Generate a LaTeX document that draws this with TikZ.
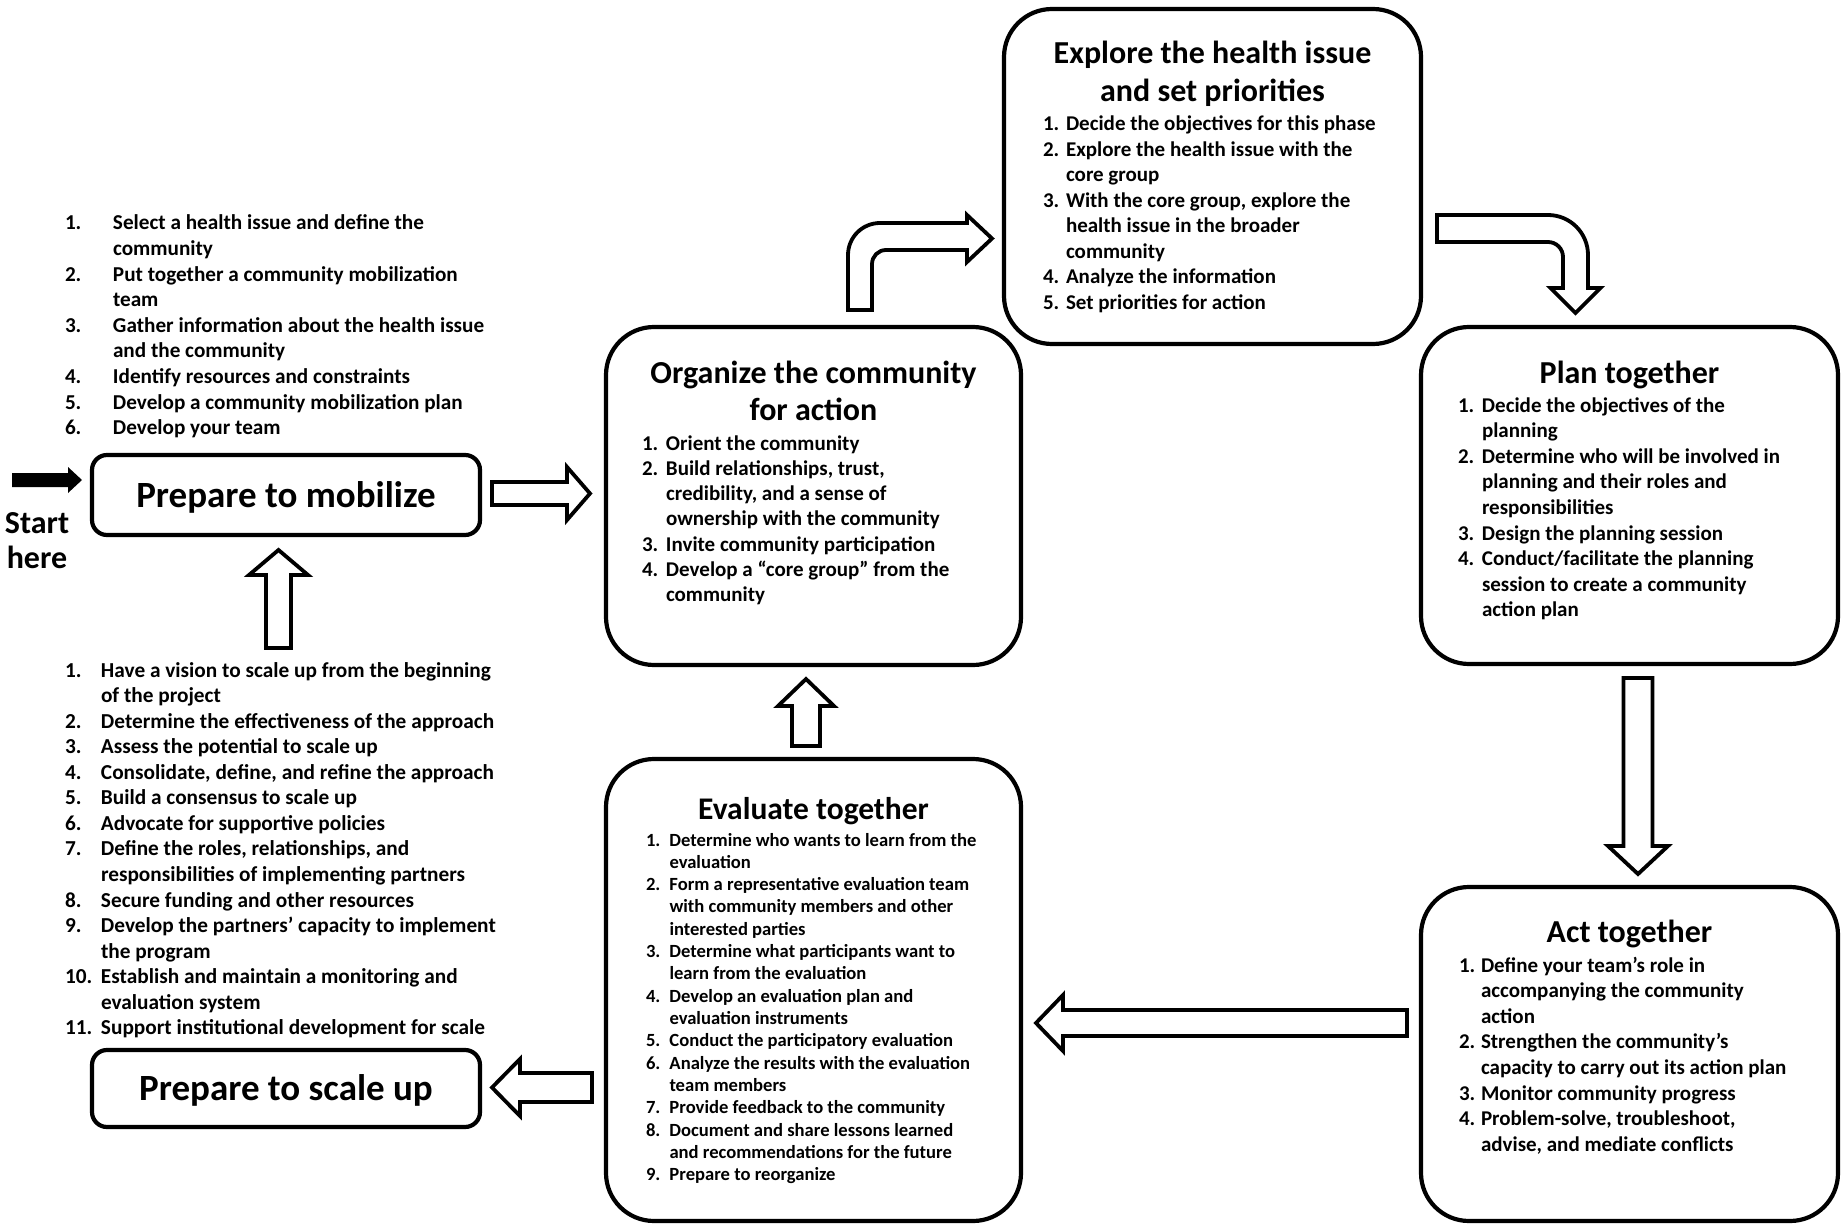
\documentclass[tikz,border=0pt]{standalone}
\usepackage{fontspec}
\setmainfont{Carlito}
\usepackage{graphicx}
\usetikzlibrary{calc}
\tikzset{
  bigbox/.style={draw, line width=4.2pt, rounded corners=48pt, inner sep=0pt},
  smallbox/.style={draw, line width=4.2pt, rounded corners=15pt, minimum width=388pt, inner sep=0pt,
     font=\fontsize{37}{40}\selectfont\bfseries},
  txt/.style={inner sep=0pt, outer sep=0pt},
  blockarrow/.style={draw, fill=white, line width=3.8pt, line join=miter},
}
\newcommand\hblock[6]{\draw[blockarrow] (#1,{#4-#5}) -- (#2,{#4-#5}) -- (#2,{#4-#6}) -- (#3,#4) -- (#2,{#4+#6}) -- (#2,{#4+#5}) -- (#1,{#4+#5}) -- cycle;}
\newcommand\vblock[6]{\draw[blockarrow] ({#4-#5},#1) -- ({#4-#5},#2) -- ({#4-#6},#2) -- (#4,#3) -- ({#4+#6},#2) -- ({#4+#5},#2) -- ({#4+#5},#1) -- cycle;}
\begin{document}
\begin{tikzpicture}[x=1pt,y=-1pt]
\useasboundingbox (0,0) rectangle (1845,1225);

% ---------- big boxes ----------
\node[bigbox, minimum width=415pt, minimum height=338pt] (org) at (813.5,496) {};
\node[bigbox, minimum width=417pt, minimum height=335pt] (exp) at (1212.5,176.5) {};
\node[bigbox, minimum width=417pt, minimum height=337pt] (plan) at (1629.5,495.5) {};
\node[bigbox, minimum width=417pt, minimum height=334pt] (act) at (1629.5,1054) {};
\node[bigbox, minimum width=415pt, minimum height=462pt] (eval) at (813.5,990) {};

% ---------- small boxes ----------
\node[smallbox, minimum height=80pt, text height=26pt, text depth=2pt] (mob) at (286,495) {Prepare to mobilize};
\node[smallbox, minimum height=77pt, text height=25pt, text depth=2pt] (scale) at (286,1088.5) {Prepare to scale up};

% ---------- start ----------
\node[txt, anchor=base] (start) at (37,533) {\fontsize{32}{35}\selectfont\bfseries
  \begin{tabular}[t]{@{}c@{}}Start\\here\end{tabular}};
\fill (12,473) -- (68,473) -- (68,467) -- (82,480) -- (68,493) -- (68,487) -- (12,487) -- cycle;

% ---------- top-left list ----------
\node[txt, anchor=base west] (mobl) at (65,230) {\fontsize{21.2}{25.6}\selectfont\bfseries
\begin{tabular}[t]{@{}p{48pt}@{}l@{}}
1. & Select a health issue and define the\\
   & community\\
2. & Put together a community mobilization\\
   & team\\
3. & Gather information about the health issue\\
   & and the community\\
4. & Identify resources and constraints\\
5. & Develop a community mobilization plan\\
6. & Develop your team
\end{tabular}};

% ---------- bottom-left list ----------
\node[txt, anchor=base west] (scalel) at (65,677) {\fontsize{21.3}{25.57}\selectfont\bfseries
\begin{tabular}[t]{@{}p{36pt}@{}l@{}}
1. & Have a vision to scale up from the beginning\\
   & of the project\\
2. & Determine the effectiveness of the approach\\
3. & Assess the potential to scale up\\
4. & Consolidate, define, and refine the approach\\
5. & Build a consensus to scale up\\
6. & Advocate for supportive policies\\
7. & Define the roles, relationships, and\\
   & responsibilities of implementing partners\\
8. & Secure funding and other resources\\
9. & Develop the partners’ capacity to implement\\
   & the program\\
10. & Establish and maintain a monitoring and\\
   & evaluation system\\
11. & Support institutional development for scale
\end{tabular}};

% ---------- organize ----------
\node[txt, anchor=base] (orgt) at (813.5,383) {\fontsize{32}{37}\selectfont\bfseries
  \begin{tabular}[t]{@{}c@{}}Organize the community\\for action\end{tabular}};
\node[txt, anchor=base west] (orgl) at (642,450) {\fontsize{21}{25.3}\selectfont\bfseries
\begin{tabular}[t]{@{}p{24pt}@{}l@{}}
1. & Orient the community\\
2. & Build relationships, trust,\\
   & credibility, and a sense of\\
   & ownership with the community\\
3. & Invite community participation\\
4. & Develop a “core group” from the\\
   & community
\end{tabular}};

% ---------- explore ----------
\node[txt, anchor=base] (expt) at (1212.5,64) {\fontsize{32}{38}\selectfont\bfseries
  \begin{tabular}[t]{@{}c@{}}Explore the health issue\\and set priorities\end{tabular}};
\node[txt, anchor=base west] (expl) at (1043,131) {\fontsize{21}{25.5}\selectfont\bfseries
\begin{tabular}[t]{@{}p{23pt}@{}l@{}}
1. & Decide the objectives for this phase\\
2. & Explore the health issue with the\\
   & core group\\
3. & With the core group, explore the\\
   & health issue in the broader\\
   & community\\
4. & Analyze the information\\
5. & Set priorities for action
\end{tabular}};

% ---------- plan ----------
\node[txt, anchor=base] (plant) at (1629.5,383) {\fontsize{32}{37}\selectfont\bfseries Plan together};
\node[txt, anchor=base west] (planl) at (1458,412) {\fontsize{21}{25.6}\selectfont\bfseries
\begin{tabular}[t]{@{}p{24pt}@{}l@{}}
1. & Decide the objectives of the\\
   & planning\\
2. & Determine who will be involved in\\
   & planning and their roles and\\
   & responsibilities\\
3. & Design the planning session\\
4. & Conduct/facilitate the planning\\
   & session to create a community\\
   & action plan
\end{tabular}};

% ---------- act ----------
\node[txt, anchor=base] (actt) at (1629.5,942) {\fontsize{32}{37}\selectfont\bfseries Act together};
\node[txt, anchor=base west] (actl) at (1459,972) {\fontsize{21}{25.6}\selectfont\bfseries
\begin{tabular}[t]{@{}p{22pt}@{}l@{}}
1. & Define your team’s role in\\
   & accompanying the community\\
   & action\\
2. & Strengthen the community’s\\
   & capacity to carry out its action plan\\
3. & Monitor community progress\\
4. & Problem-solve, troubleshoot,\\
   & advise, and mediate conflicts
\end{tabular}};

% ---------- evaluate ----------
\node[txt, anchor=base] (evalt) at (813.5,819) {\fontsize{31.5}{37}\selectfont\bfseries Evaluate together};
\node[txt, anchor=base west] (evall) at (646,846) {\fontsize{18.6}{22.33}\selectfont\bfseries
\begin{tabular}[t]{@{}p{23.5pt}@{}l@{}}
1. & Determine who wants to learn from the\\
   & evaluation\\
2. & Form a representative evaluation team\\
   & with community members and other\\
   & interested parties\\
3. & Determine what participants want to\\
   & learn from the evaluation\\
4. & Develop an evaluation plan and\\
   & evaluation instruments\\
5. & Conduct the participatory evaluation\\
6. & Analyze the results with the evaluation\\
   & team members\\
7. & Provide feedback to the community\\
8. & Document and share lessons learned\\
   & and recommendations for the future\\
9. & Prepare to reorganize
\end{tabular}};

% ---------- hollow arrows ----------
% mobilize -> organize
\hblock{492}{567}{590}{493.5}{11.5}{26.5}
% evaluate -> scale up
\hblock{592}{520}{492}{1087.5}{14.5}{28.5}
% act -> evaluate
\hblock{1407}{1063}{1036}{1023}{13}{28}
% scale-up list -> mobilize
\vblock{648}{575}{550}{278.5}{12.5}{29.5}
% evaluate -> organize
\vblock{746}{706}{679}{806}{14}{28}
% plan -> act
\vblock{678}{846}{874}{1638}{14.5}{30}

% organize -> explore (bent)
\draw[blockarrow] (848,310) -- (848,255) .. controls (848,237.3) and (862.3,223) .. (880,223)
  -- (967,223) -- (967,215) -- (992,238.5) -- (967,262) -- (967,250) -- (886,250)
  .. controls (878.3,250) and (872,256.3) .. (872,264) -- (872,310) -- cycle;
% explore -> plan (bent)
\draw[blockarrow] (1437,215) -- (1548,215) .. controls (1570.1,215) and (1588,232.9) .. (1588,255)
  -- (1588,288) -- (1600.5,288) -- (1575.5,313) -- (1550.5,288) -- (1563,288) -- (1563,257)
  .. controls (1563,248.7) and (1556.3,242) .. (1548,242) -- (1437,242) -- cycle;
\end{tikzpicture}
\end{document}
